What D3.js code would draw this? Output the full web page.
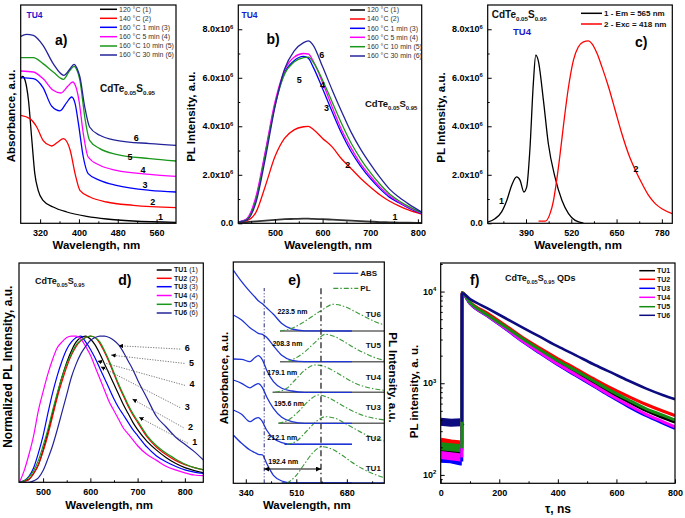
<!DOCTYPE html>
<html><head><meta charset="utf-8">
<script src="https://cdn.jsdelivr.net/npm/d3@7/dist/d3.min.js"></script>
<style>html,body{margin:0;padding:0;background:#fff;}svg{display:block;}</style>
</head><body>
<svg id="chart" width="685" height="518"></svg>
<script>
// ================= DATA =================
// ---- panel a: absorbance, TU4 ----
const aLegend = ["120 °C (1)","140 °C (2)","160 °C 1 min (3)","160 °C 5 min (4)","160 °C 10 min (5)","160 °C 30 min (6)"];
const aWl1 = [280,284,289,296,303,309,316,326,347,375,416,457,512,600];
const aAbs1 = [1.45,1.47,1.43,1.23,0.83,0.50,0.33,0.23,0.163,0.113,0.07,0.043,0.023,0.01];
const aWl2 = [280,299,313,326,340,344,356,368,382,392,402,423,457,512,600];
const aAbs2 = [1.08,1.047,0.963,0.83,0.78,0.773,0.81,0.847,0.73,0.497,0.33,0.263,0.213,0.18,0.157];
const aWl3 = [280,306,326,344,361,375,385,392,399,409,419,443,477,546,600];
const aAbs3 = [1.457,1.447,1.357,1.17,1.125,1.21,1.263,1.2,0.997,0.663,0.497,0.43,0.38,0.33,0.313];
const aWl4 = [280,306,326,347,363,377,387,394,400,409,419,443,477,546,600];
const aAbs4 = [1.523,1.513,1.447,1.33,1.303,1.37,1.413,1.36,1.23,0.897,0.663,0.58,0.53,0.49,0.47];
const aWl5 = [280,306,326,347,368,380,390,396,402,412,422,443,477,546,600];
const aAbs5 = [1.657,1.657,1.597,1.513,1.44,1.52,1.57,1.53,1.43,1.063,0.83,0.747,0.69,0.647,0.623];
const aWl6 = [280,292,306,326,347,369,381,390,396,402,412,422,443,477,546,600];
const aAbs6 = [1.87,1.89,1.88,1.78,1.597,1.48,1.54,1.59,1.55,1.463,1.163,0.963,0.88,0.83,0.797,0.78];
const aCurveLabels = ["1","2","3","4","5","6"];
const aLabelWl = [568,552,536,532,505,518];
const aLabelVal = [0.06,0.215,0.38,0.53,0.665,0.85];

// ---- panel b: PL, TU4 (x10^6) ----
const bWl = [423,440,460,480,500,520,540,560,570,580,600,620,640,660,680,700,720,740,760,780,808];
const b1 = [0.03,0.05,0.08,0.11,0.14,0.17,0.18,0.19,0.19,0.18,0.17,0.15,0.13,0.11,0.09,0.07,0.05,0.04,0.03,0.03,0.02];
const b2 = [0.05,0.1,0.45,1.55,2.75,3.5,3.85,3.98,4.0,3.88,3.5,3.15,2.65,2.25,1.85,1.5,1.18,0.92,0.72,0.55,0.38];
const b3 = [0.05,0.15,1.0,2.9,4.9,6.2,6.7,6.88,6.8,6.45,5.55,4.6,3.7,2.95,2.35,1.85,1.43,1.08,0.85,0.63,0.4];
const b4 = [0.06,0.18,1.1,3.0,5.0,6.3,6.85,7.0,6.98,6.7,5.8,4.8,3.85,3.1,2.45,1.95,1.5,1.15,0.88,0.66,0.42];
const b5 = [0.05,0.14,0.95,2.85,4.85,6.15,6.65,6.83,6.85,6.65,5.9,5.0,4.1,3.3,2.65,2.1,1.62,1.22,0.93,0.7,0.44];
const b6 = [0.05,0.12,0.85,2.7,4.8,6.35,7.1,7.45,7.52,7.35,6.45,5.5,4.6,3.75,3.05,2.45,1.9,1.42,1.08,0.8,0.46];
const bLabelWl = [752,653,608,600,551,598];
const bLabelVal = [0.25,2.4,4.75,5.7,5.9,6.95];
const plTicks = [0,2,4,6,8];
const plMinor = [1,3,5,7];

// ---- panel c: PLE / PL ----
const cLegend = ["1 - Em = 565 nm","2 - Exc = 418 nm"];
const cWl1 = [280,301,320,335,349,363,373,384,392,401,411,418,425,440,454,473,493,512,531,555];
const c1 = [0.05,0.19,0.47,0.95,1.57,1.91,1.77,1.29,1.50,3.01,5.76,6.93,6.72,5.07,3.29,1.91,0.95,0.40,0.12,0.01];
const cWl2 = [426,445,459,469,478,488,497,512,526,540,555,569,579,594,608,627,646,665,684,704,723,742,761,780,810];
const c2 = [0.09,0.09,0.40,0.95,1.77,2.87,3.97,5.62,6.72,7.27,7.48,7.52,7.41,7.0,6.45,5.62,4.66,3.70,2.87,2.19,1.64,1.15,0.81,0.60,0.40];
const cLabelWl = [320,706];
const cLabelVal = [0.92,2.26];

// ---- panel d: normalized PL, TU1..TU6 ----
const dNames = ["TU1","TU2","TU3","TU4","TU5","TU6"];
const dWl = [450,460,470,480,490,500,510,520,530,540,550,560,570,580,590,600,610,620,630,640,650,660,670,680,690,700,720,740,760,780,800,820,840];
const d1 = [0,0.01,0.02,0.06,0.12,0.22,0.34,0.47,0.6,0.72,0.82,0.9,0.96,0.99,1.0,0.98,0.94,0.88,0.81,0.74,0.67,0.6,0.53,0.47,0.41,0.36,0.28,0.22,0.17,0.13,0.1,0.08,0.065];
const d2 = [0,0.005,0.02,0.06,0.12,0.21,0.32,0.45,0.58,0.69,0.79,0.87,0.93,0.97,0.99,1.0,0.99,0.95,0.89,0.82,0.74,0.66,0.59,0.52,0.46,0.41,0.31,0.24,0.19,0.15,0.12,0.1,0.085];
const d3v = [0,0.01,0.04,0.1,0.2,0.32,0.47,0.61,0.73,0.83,0.91,0.96,0.99,1.0,0.96,0.91,0.85,0.78,0.71,0.64,0.57,0.51,0.46,0.41,0.36,0.32,0.24,0.18,0.14,0.11,0.085,0.07,0.06];
const d4 = [0,0.08,0.19,0.32,0.49,0.62,0.74,0.84,0.92,0.96,0.99,1.0,1.0,0.98,0.93,0.87,0.79,0.71,0.63,0.55,0.49,0.43,0.37,0.33,0.29,0.25,0.19,0.15,0.11,0.085,0.065,0.05,0.045];
const d5 = [0,0.01,0.035,0.08,0.15,0.25,0.36,0.49,0.61,0.72,0.81,0.88,0.94,0.97,0.99,1.0,0.99,0.96,0.9,0.83,0.75,0.67,0.6,0.53,0.47,0.42,0.32,0.25,0.2,0.16,0.125,0.1,0.085];
const d6 = [0,0,0,0.01,0.03,0.08,0.16,0.25,0.36,0.48,0.6,0.72,0.81,0.88,0.93,0.97,0.99,1.0,1.0,0.99,0.97,0.94,0.89,0.83,0.77,0.70,0.575,0.45,0.38,0.31,0.26,0.21,0.15];
const dArrowLabels = ["6","5","4","3","2","1"];
const dTipWl = [660,644,615,622,689,703];
const dTipVal = [0.934,0.87,0.83,0.79,0.57,0.445];
const dLabWl = [805,814,815,805,812,821];
const dLabVal = [0.918,0.82,0.67,0.517,0.38,0.274];

// ---- panel e: stacked ABS (solid) and PL (dash-dot), arbitrary offset units ----
const eNames = ["TU1","TU2","TU3","TU4","TU5","TU6"];
const eAbsWl = [298,326,354,370,382,396,410,433,461,495,539,697];
const eAbs1 = [48.3,40,33.3,30.8,29,28.5,20,8,2.3,0.4,0.3,0.3];
const eAbs2 = [73.3,69,61.6,64.5,65.6,61.6,53.3,45,40.6,39,39,39];
const eAbs3 = [103.3,100,95.5,98.2,99.6,95.6,86.6,75,66,61.6,60,60];
const eAbs4 = [124.3,124,121.6,125.5,127.6,123.3,113.3,101.6,95,92.3,91,91];
const eAbs5 = [168.3,163.3,155.6,152.3,150,149,146,137.5,128,123,121.6,121.6];
const eAbs6 = [213.3,201.7,191.7,186.5,182.5,179.5,175.5,169,159.8,154.3,152.5,152.3];
const ePlWl1 = [478,506,539,567,596,629,663,697,730,764,806];
const ePl1 = [0,6.6,20,31,36.6,34.3,28.3,21,15,10,5.6];
const ePlWl2 = [478,511,545,579,607,641,674,708,741,775,806];
const ePl2 = [39,42.3,52.3,62.3,66.6,65,60,54.3,49,45,42.3];
const ePlWl3 = [450,483,517,551,584,618,652,686,719,753,806];
const ePl3 = [60,63.3,71.6,82.3,88.3,85.6,80,74.3,69.6,66.3,63.3];
const ePlWl4 = [438,478,506,539,573,607,640,674,708,741,775,806];
const ePl4 = [91,95,103.3,113.3,118.3,116.6,111.6,105.6,100,96.6,94.3,93];
const ePlWl5 = [478,506,539,573,607,640,674,708,741,775,806];
const ePl5 = [121.6,125,131.6,141,149,146.6,141,135,130,125.6,123];
const ePlWl6 = [455,495,528,562,596,635,674,708,741,775,806];
const ePl6 = [152.3,155,160,166.6,173.3,179,176.6,171.6,166.6,161.6,158.3];
const eBaseLevel = [0.4,39,60,91,121.6,152.3];
const eBaseFrom = [461,470,450,430,455,455];
const eBaseTo = [806,697,806,806,806,806];
const eShift = ["192.4 nm","212.1 nm","195.6 nm","179.1 nm","208.3 nm","223.5 nm"];
const eShiftWl = [466,463,485,463,480,497];
const eShiftVal = [21.3,45.6,80,111,140,171.6];
const eNameWl = 769;
const eNameVal = [15,45.6,76,106.6,138.3,169];
const eMarkWl = [402,593];
const eMarkTop = 195.3;
const eArrowVal = 14.3;

// ---- panel f: PL decay (log) ----
const fNames = ["TU1","TU2","TU3","TU4","TU5","TU6"];
const fT = [0,35,70,72,73,100,160,220,280,340,400,460,520,580,640,700,760,800];
const f1 = [195,190,185,185,9700,7500,5500,4050,2950,2220,1690,1320,1020,790,630,505,420,378];
const f2 = [230,220,215,215,9800,7700,5800,4300,3150,2400,1850,1450,1130,890,720,590,495,445];
const f3 = [150,148,140,140,9600,7400,5400,3950,2850,2120,1590,1220,940,720,560,445,365,322];
const f4 = [165,160,155,155,9600,7450,5450,4000,2880,2150,1620,1250,960,740,580,460,380,335];
const f5 = [205,200,195,195,9700,7600,5550,4150,3050,2300,1760,1380,1070,830,660,530,445,395];
const f6 = [380,370,375,380,9600,8300,6550,5150,4050,3200,2520,2030,1620,1320,1070,880,740,670];

// ================= DRAWING =================
const FONT = '"Liberation Sans", Arial, Helvetica, sans-serif';
const svg = d3.select('#chart').attr('font-family', FONT);
const defs = svg.append('defs');
defs.append('marker').attr('id','arr').attr('viewBox','0 0 8 8').attr('refX',8).attr('refY',4)
  .attr('markerWidth',5).attr('markerHeight',5).attr('orient','auto-start-reverse')
  .append('path').attr('d','M0,0L8,4L0,8z').attr('fill','#000');

const BLACK='#000', RED='#ff0000', BLUE='#0000ff', MAG='#ff00ff', GREEN='#1a961a', NAVY='#24249a';
const COLS = [BLACK,RED,BLUE,MAG,GREEN,NAVY];

let clipN = 0;
function makeClip(B){
  const id='cl'+(clipN++);
  defs.append('clipPath').attr('id',id).append('rect').attr('x',B.x0).attr('y',B.y0).attr('width',B.x1-B.x0).attr('height',B.y1-B.y0);
  return svg.append('g').attr('clip-path',`url(#${id})`);
}
function frame(B){
  svg.append('rect').attr('x',B.x0).attr('y',B.y0).attr('width',B.x1-B.x0).attr('height',B.y1-B.y0)
    .attr('fill','none').attr('stroke','#000').attr('stroke-width',1.2);
}
function xAxis(x,B,major,minor,fmt){
  const g = svg.append('g').attr('transform',`translate(0,${B.y1})`)
    .call(d3.axisBottom(x).tickValues(major).tickSize(-4).tickPadding(6.5).tickFormat(fmt||d3.format('d')));
  g.select('.domain').remove();
  g.attr('font-size',9).attr('font-family',FONT).attr('font-weight','bold');
  g.selectAll('text').attr('fill','#000');
  if(minor){
    const m = svg.append('g').attr('transform',`translate(0,${B.y1})`)
      .call(d3.axisBottom(x).tickValues(minor).tickSize(-2).tickFormat(''));
    m.select('.domain').remove();
  }
}
function yTicks(y,B,major,minor){
  const g = svg.append('g').attr('transform',`translate(${B.x0},0)`)
    .call(d3.axisLeft(y).tickValues(major).tickSize(-4).tickFormat(''));
  g.select('.domain').remove();
  if(minor){
    const m = svg.append('g').attr('transform',`translate(${B.x0},0)`)
      .call(d3.axisLeft(y).tickValues(minor).tickSize(-2).tickFormat(''));
    m.select('.domain').remove();
  }
}
function supText(x,y,base,exp,size,anchor){
  const t = svg.append('text').attr('x',x).attr('y',y).attr('dy','0.35em').attr('text-anchor',anchor||'end')
    .attr('font-size',size).attr('font-weight','bold').attr('fill','#000');
  t.append('tspan').text(base);
  if(exp!==null && exp!==undefined) t.append('tspan').attr('dy',-size*0.42).attr('font-size',size*0.65).text(exp);
}
function formula(x,y,size,suffix){
  const t = svg.append('text').attr('x',x).attr('y',y).attr('font-size',size).attr('font-weight','bold').attr('fill','#111');
  t.append('tspan').text('CdTe');
  t.append('tspan').attr('dy',size*0.3).attr('font-size',size*0.62).text('0.05');
  t.append('tspan').attr('dy',-size*0.3).text('S');
  t.append('tspan').attr('dy',size*0.3).attr('font-size',size*0.62).text('0.95');
  if(suffix) t.append('tspan').attr('dy',-size*0.3).text(suffix);
}
function txt(x,y,s,size,opts){
  opts=opts||{};
  const t = svg.append('text').attr('x',x).attr('y',y).text(s).attr('font-size',size)
    .attr('font-weight',opts.weight||'bold').attr('fill',opts.fill||'#000')
    .attr('text-anchor',opts.anchor||'start');
  if(opts.dy) t.attr('dy',opts.dy);
  if(opts.rot!==undefined) t.attr('transform',`rotate(${opts.rot},${x},${y})`);
  return t;
}
function xTitle(B,s,yb){ txt((B.x0+B.x1)/2-2,yb,s,11.5,{anchor:'middle'}); }
function yTitle(xb,yc,s,rot,size){ txt(xb,yc,s,size||11.5,{anchor:'middle',rot:rot}); }
function curve(g,x,y,xs,ys,color,w,dash,curveType){
  const line = d3.line().x(d=>x(d[0])).y(d=>y(d[1])).curve(curveType||d3.curveMonotoneX);
  const p = g.append('path').attr('d',line(d3.zip(xs,ys))).attr('fill','none').attr('stroke',color)
    .attr('stroke-width',w||1.2).attr('stroke-linejoin','round');
  if(dash) p.attr('stroke-dasharray',dash);
  return p;
}
function legendRow(x0,x1,yc,color,label,size,opts){
  opts=opts||{};
  const l = svg.append('line').attr('x1',x0).attr('x2',x1).attr('y1',yc).attr('y2',yc).attr('stroke',color).attr('stroke-width',opts.w||1.5);
  if(opts.dash) l.attr('stroke-dasharray',opts.dash);
  return txt(x1+2,yc,label,size,{weight:opts.weight||'normal',fill:opts.fill||'#333',dy:'0.35em'});
}

// ---------- panel a ----------
const A={x0:20.7,x1:176,y0:5,y1:223.3};
const ax=d3.scaleLinear([280,600],[A.x0,A.x1]);
const ay=d3.scaleLinear([0,2.183],[A.y1,A.y0]);
{
  const g=makeClip(A);
  const W=[aWl1,aWl2,aWl3,aWl4,aWl5,aWl6], V=[aAbs1,aAbs2,aAbs3,aAbs4,aAbs5,aAbs6];
  W.forEach((w,i)=>curve(g,ax,ay,w,V[i],COLS[i],1.3));
  frame(A);
  xAxis(ax,A,[320,400,480,560],[360,440,520]);
  xTitle(A,'Wavelength, nm',248.5);
  yTitle(14.5,116,'Absorbance, a.u.',-90);
  aCurveLabels.forEach((s,i)=>txt(ax(aLabelWl[i]),ay(aLabelVal[i]),s,9,{anchor:'middle',dy:'0.35em'}));
  txt(26.5,17.5,'TU4',8.5,{fill:'#1a1acd'});
  txt(55,45,'a)',14);
  formula(100,91.7,10);
  const ly=[9.3,18.3,27.3,36.7,46,55];
  aLegend.forEach((s,i)=>legendRow(100,117,ly[i],COLS[i],s,7));
}

// ---------- panel b ----------
const Bp={x0:238.3,x1:421.7,y0:5,y1:223.3};
const bx=d3.scaleLinear([423,808],[Bp.x0,Bp.x1]);
const by=d3.scaleLinear([0,9],[Bp.y1,Bp.y0]);
{
  const g=makeClip(Bp);
  const V=[b1,b2,b3,b4,b5,b6];
  V.forEach((v,i)=>curve(g,bx,by,bWl,v,i===0?'#333':COLS[i],i===0?1.8:1.3));
  frame(Bp);
  xAxis(bx,Bp,[500,600,700,800],[450,550,650,750]);
  yTicks(by,Bp,plTicks,plMinor);
  plTicks.forEach(v=>supText(Bp.x0-5,by(v),v===0?'0.0':v.toFixed(1)+'x10',v===0?null:'6',9));
  xTitle(Bp,'Wavelength, nm',248.5);
  yTitle(195,116.7,'PL Intensity, a.u.',-90);
  aCurveLabels.forEach((s,i)=>txt(bx(bLabelWl[i]),by(bLabelVal[i]),s,9,{anchor:'middle',dy:'0.35em'}));
  txt(241.5,17.5,'TU4',8.5,{fill:'#1a1acd'});
  txt(266.5,44,'b)',14);
  formula(365,107.3,9.5);
  const ly=[10,19,28.3,37.3,46.7,56];
  aLegend.forEach((s,i)=>legendRow(350,365,ly[i],COLS[i],s,7));
}

// ---------- panel c ----------
const C={x0:487.7,x1:672.3,y0:5,y1:223.3};
const cx=d3.scaleLinear([280,810],[C.x0,C.x1]);
const cy=d3.scaleLinear([0,9],[C.y1,C.y0]);
{
  const g=makeClip(C);
  curve(g,cx,cy,cWl1,c1,'#000',1.3);
  curve(g,cx,cy,cWl2,c2,RED,1.3);
  frame(C);
  xAxis(cx,C,[390,520,650,780],[325,455,585,715]);
  yTicks(cy,C,plTicks,plMinor);
  plTicks.forEach(v=>supText(C.x0-5,cy(v),v===0?'0.0':v.toFixed(1)+'x10',v===0?null:'6',9));
  xTitle(C,'Wavelength, nm',248.5);
  yTitle(444.5,117.5,'PL Intensity, a.u.',-90);
  ['1','2'].forEach((s,i)=>txt(cx(cLabelWl[i]),cy(cLabelVal[i]),s,9,{anchor:'middle',dy:'0.35em'}));
  formula(491.7,17.5,10);
  txt(513,35,'TU4',9.5,{fill:'#1a1acd'});
  txt(635,47,'c)',14);
  legendRow(581,602,13.3,'#000',cLegend[0],8,{weight:'bold',fill:'#111'});
  legendRow(581,602,24,RED,cLegend[1],8,{weight:'bold',fill:'#111'});
}

// ---------- panel d ----------
const D={x0:19,x1:203.3,y0:263,y1:482.3};
const dx=d3.scaleLinear([449,839],[D.x0,D.x1]);
const dy=d3.scaleLinear([0,1.5],[D.y1,D.y0]);
{
  const g=makeClip(D);
  const V=[d1,d2,d3v,d4,d5,d6];
  [0,1,2,3,4,5].forEach(i=>curve(g,dx,dy,dWl,V[i],COLS[i],1.2));
  dArrowLabels.forEach((s,i)=>{
    svg.append('line').attr('x1',dx(dLabWl[i])-7).attr('y1',dy(dLabVal[i])+1)
      .attr('x2',dx(dTipWl[i])).attr('y2',dy(dTipVal[i]))
      .attr('stroke','#666').attr('stroke-width',0.9).attr('stroke-dasharray','1.2,1.4')
      .attr('marker-end','url(#arr)');
    txt(dx(dLabWl[i]),dy(dLabVal[i]),s,9,{anchor:'middle',dy:'0.35em'});
  });
  frame(D);
  xAxis(dx,D,[500,600,700,800],[550,650,750]);
  xTitle(D,'Wavelength, nm',509);
  yTitle(12.5,366.7,'Normalized PL Intensity, a.u.',-90,12);
  txt(118.3,285,'d)',14);
  formula(35,284.3,9);
  const ly=[270,278.3,286.7,295.5,304.3,313];
  dNames.forEach((s,i)=>{
    svg.append('line').attr('x1',156.7).attr('x2',171.7).attr('y1',ly[i]).attr('y2',ly[i]).attr('stroke',COLS[i]).attr('stroke-width',1.5);
    const t=svg.append('text').attr('x',174).attr('y',ly[i]).attr('dy','0.35em').attr('font-size',7).attr('fill','#111');
    t.append('tspan').attr('font-weight','bold').text(s);
    t.append('tspan').text(' ('+(i+1)+')');
  });
}

// ---------- panel e ----------
const E={x0:233.3,x1:384.3,y0:262,y1:483.3};
const ex=d3.scaleLinear([298,806],[E.x0,E.x1]);
const ey=d3.scaleLinear([0,221.3],[E.y1,E.y0]);
{
  const g=makeClip(E);
  const ABS=[eAbs1,eAbs2,eAbs3,eAbs4,eAbs5,eAbs6];
  const PLW=[ePlWl1,ePlWl2,ePlWl3,ePlWl4,ePlWl5,ePlWl6], PLV=[ePl1,ePl2,ePl3,ePl4,ePl5,ePl6];
  const ABSC='#1f35d6', PLC='#3a9a3a';
  eNames.forEach((n,i)=>{
    g.append('line').attr('x1',ex(eBaseFrom[i])).attr('x2',ex(eBaseTo[i])).attr('y1',ey(eBaseLevel[i])).attr('y2',ey(eBaseLevel[i]))
      .attr('stroke',i<2?ABSC:'#666').attr('stroke-width',1.4);
    curve(g,ex,ey,eAbsWl,ABS[i],ABSC,1.3);
    curve(g,ex,ey,PLW[i],PLV[i],PLC,1.1,'5,2,1.5,2');
  });
  g.append('line').attr('x1',ex(eMarkWl[0])).attr('x2',ex(eMarkWl[0])).attr('y1',ey(0)).attr('y2',ey(eMarkTop))
    .attr('stroke','#2a2a7a').attr('stroke-width',1).attr('stroke-dasharray','4,2,1,2,1,2');
  g.append('line').attr('x1',ex(eMarkWl[1])).attr('x2',ex(eMarkWl[1])).attr('y1',ey(0)).attr('y2',ey(eMarkTop))
    .attr('stroke','#333').attr('stroke-width',1.4).attr('stroke-dasharray','6,3,1.5,3');
  svg.append('line').attr('x1',ex(eMarkWl[0])).attr('x2',ex(eMarkWl[1])).attr('y1',ey(eArrowVal)).attr('y2',ey(eArrowVal))
    .attr('stroke','#000').attr('stroke-width',1).attr('marker-start','url(#arr)').attr('marker-end','url(#arr)');
  eShift.forEach((s,i)=>txt(ex(eShiftWl[i]),ey(eShiftVal[i]),s,7,{anchor:'middle',dy:'0.35em'}));
  eNames.forEach((s,i)=>txt(ex(eNameWl),ey(eNameVal[i]),s,8,{anchor:'middle',dy:'0.35em',fill:'#111'}));
  frame(E);
  xAxis(ex,E,[340,510,680],[425,595,765]);
  xTitle(E,'Wavelength, nm',509);
  yTitle(228,378,'Absorbance, a.u.',-90);
  yTitle(388.5,377.5,'PL Intensity, a.u.',90);
  txt(288.3,285,'e)',14);
  legendRow(333.3,358.3,273.3,ABSC,'ABS',8,{weight:'bold',fill:'#111',w:1.3});
  legendRow(333.3,358.3,288.3,PLC,'PL',8,{weight:'bold',fill:'#111',w:1.2,dash:'5,2,1.5,2'});
}

// ---------- panel f ----------
const F={x0:440.7,x1:675,y0:263,y1:483.3};
const fx=d3.scaleLinear([0,800],[F.x0,F.x1]);
const fy=d3.scaleLog([81,20500],[F.y1,F.y0]);
{
  const g=makeClip(F);
  const V=[f1,f2,f3,f4,f5,f6];
  const order=[0,1,2,3,4,5];
  const FC=[BLACK,RED,BLUE,MAG,'#148c14','#0c0c80'];
  order.forEach(i=>{
    curve(g,fx,fy,fT.slice(0,4),V[i].slice(0,4),FC[i],8,null,d3.curveLinear);
  });
  order.forEach(i=>{
    curve(g,fx,fy,fT.slice(3),V[i].slice(3),FC[i],i===5?2.6:3,null,d3.curveMonotoneX);
  });
  frame(F);
  xAxis(fx,F,[0,200,400,600,800],[100,300,500,700]);
  const minor=[];
  [10,100,1000,10000].forEach(d=>[2,3,4,5,6,7,8,9].forEach(k=>{const v=k*d; if(v>81&&v<20500) minor.push(v);}));
  yTicks(fy,F,[100,1000,10000],minor);
  [[100,'2'],[1000,'3'],[10000,'4']].forEach(([v,e])=>supText(F.x0-4.5,fy(v),'10',e,9));
  txt(558,513,'τ, ns',12,{anchor:'middle'});
  yTitle(417.5,391.5,'PL intensity, a. u.',-90);
  txt(470,285,'f)',14);
  formula(505,281,9,' QDs');
  const ly=[270.7,279.3,288.3,297.3,306.7,315.3];
  fNames.forEach((s,i)=>legendRow(639.3,655,ly[i],FC[i],s,7,{weight:'bold',fill:'#111'}));
}
</script>
</body></html>
